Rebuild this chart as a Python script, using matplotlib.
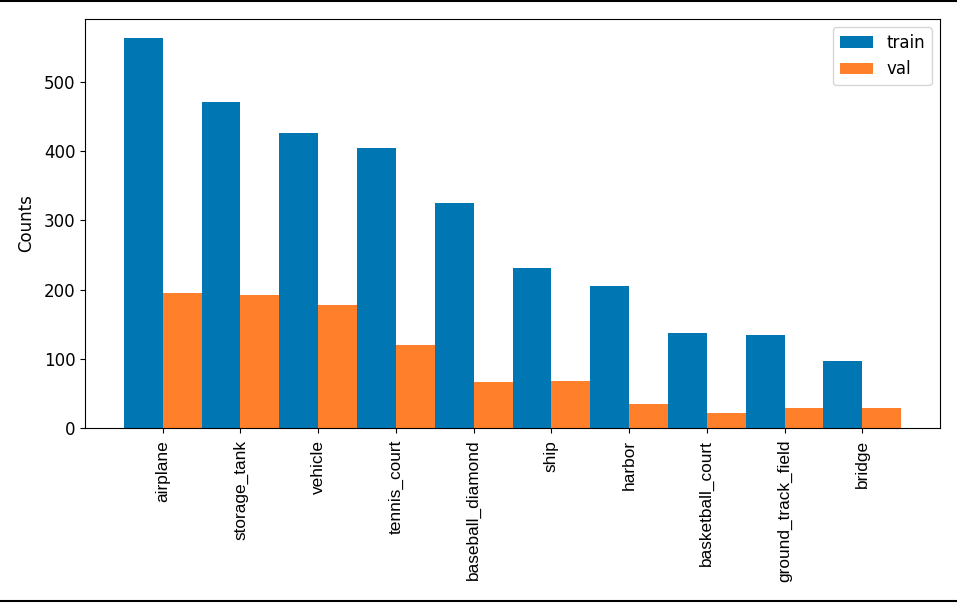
import numpy as np
import matplotlib
matplotlib.use("Agg")
from matplotlib import pyplot as plt
from matplotlib.lines import Line2D

categories = ["airplane", "storage_tank", "vehicle", "tennis_court", "baseball_diamond",
              "ship", "harbor", "basketball_court", "ground_track_field", "bridge"]
train_counts = [563, 471, 426, 404, 325, 231, 205, 137, 134, 97]
val_counts = [195, 192, 178, 120, 66, 68, 35, 22, 29, 29]

plt.rcParams["font.size"] = 12

fig, ax = plt.subplots(figsize=(9.57, 6.03), dpi=100)
fig.subplots_adjust(left=85 / 957, right=940 / 957, top=1 - 19 / 603, bottom=1 - 428 / 603)

x = np.arange(len(categories))
w = 0.5
ax.bar(x - w / 2, train_counts, w, color="#0077b3", label="train")
ax.bar(x + w / 2, val_counts, w, color="#ff7f2a", label="val")

ax.set_xticks(x)
ax.set_xticklabels(categories, rotation=90, fontsize=12.4, family="Liberation Sans")
ax.tick_params(axis="x", pad=5)
ax.set_ylabel("Counts", labelpad=6)
ax.legend(loc="upper right")

# black rules at top and bottom of the picture
fig.add_artist(Line2D([0, 1], [1 - 1 / 603, 1 - 1 / 603], transform=fig.transFigure, color="black", lw=1.5))
fig.add_artist(Line2D([0, 1], [2 / 603, 2 / 603], transform=fig.transFigure, color="black", lw=1.5))

fig.savefig("out.png", dpi=100)
